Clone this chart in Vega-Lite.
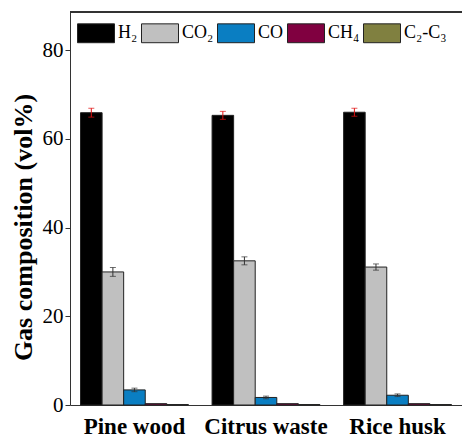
{
  "$schema": "https://vega.github.io/schema/vega-lite/v6.json",
  "autosize": "none",
  "width": 392,
  "height": 393,
  "padding": {"left": 70, "top": 12, "right": 0, "bottom": 32},
  "background": "white",
  "config": {
    "view": {"stroke": null},
    "font": "Liberation Serif"
  },
  "data": {
    "values": [
      {"sample": "Pine wood", "gas": "H₂", "value": 65.9, "lo": 64.9, "hi": 66.9},
      {"sample": "Pine wood", "gas": "CO₂", "value": 30.0, "lo": 29.0, "hi": 31.0},
      {"sample": "Pine wood", "gas": "CO", "value": 3.4, "lo": 3.0, "hi": 3.8},
      {"sample": "Pine wood", "gas": "CH₄", "value": 0.3, "lo": 0.3, "hi": 0.3},
      {"sample": "Pine wood", "gas": "C₂-C₃", "value": 0.1, "lo": 0.1, "hi": 0.1},
      {"sample": "Citrus waste", "gas": "H₂", "value": 65.3, "lo": 64.4, "hi": 66.2},
      {"sample": "Citrus waste", "gas": "CO₂", "value": 32.5, "lo": 31.6, "hi": 33.4},
      {"sample": "Citrus waste", "gas": "CO", "value": 1.7, "lo": 1.4, "hi": 2.0},
      {"sample": "Citrus waste", "gas": "CH₄", "value": 0.3, "lo": 0.3, "hi": 0.3},
      {"sample": "Citrus waste", "gas": "C₂-C₃", "value": 0.1, "lo": 0.1, "hi": 0.1},
      {"sample": "Rice husk", "gas": "H₂", "value": 66.0, "lo": 65.1, "hi": 66.9},
      {"sample": "Rice husk", "gas": "CO₂", "value": 31.1, "lo": 30.4, "hi": 31.8},
      {"sample": "Rice husk", "gas": "CO", "value": 2.2, "lo": 1.9, "hi": 2.5},
      {"sample": "Rice husk", "gas": "CH₄", "value": 0.3, "lo": 0.3, "hi": 0.3},
      {"sample": "Rice husk", "gas": "C₂-C₃", "value": 0.1, "lo": 0.1, "hi": 0.1}
    ]
  },
  "encoding": {
    "x": {
      "field": "sample",
      "type": "nominal",
      "sort": ["Pine wood", "Citrus waste", "Rice husk"],
      "scale": {"paddingInner": 0.18, "paddingOuter": 0.08},
      "axis": {
        "title": null,
        "labelAngle": 0,
        "labelFont": "Liberation Serif",
        "labelFontWeight": "bold",
        "labelFontSize": 23,
        "labelColor": "black",
        "labelPadding": 10,
        "ticks": false,
        "domainColor": "#333",
        "domainWidth": 1
      }
    },
    "xOffset": {
      "field": "gas",
      "type": "nominal",
      "sort": ["H₂", "CO₂", "CO", "CH₄", "C₂-C₃"],
      "scale": {"domain": ["H₂", "CO₂", "CO", "CH₄", "C₂-C₃"]}
    }
  },
  "layer": [
    {
      "mark": {"type": "bar", "stroke": "#222", "strokeWidth": 1},
      "encoding": {
        "y": {
          "field": "value",
          "type": "quantitative",
          "scale": {"domain": [0, 88.6], "nice": false},
          "axis": {
            "title": "Gas composition (vol%)",
            "titleFont": "Liberation Serif",
            "titleFontSize": 26,
            "titleFontWeight": "bold",
            "titleColor": "black",
            "titlePadding": 6,
            "titleY": 215,
            "values": [0, 20, 40, 60, 80],
            "labelFont": "Liberation Serif",
            "labelFontSize": 21,
            "labelColor": "black",
            "labelPadding": 2,
            "tickSize": 5,
            "tickColor": "#333",
            "domainColor": "#333",
            "grid": false
          }
        },
        "fill": {
          "field": "gas",
          "type": "nominal",
          "scale": {
            "domain": ["H₂", "CO₂", "CO", "CH₄", "C₂-C₃"],
            "range": ["#000000", "#c0c0c0", "#0a7ec2", "#800040", "#808040"]
          },
          "legend": {
            "title": null,
            "orient": "none",
            "legendX": 7,
            "legendY": 2,
            "direction": "horizontal",
            "symbolType": "M-1,-0.51L1,-0.51L1,0.51L-1,0.51Z",
            "symbolSize": 1369,
            "symbolStrokeColor": "#222",
            "symbolStrokeWidth": 1,
            "symbolOpacity": 1,
            "labelFont": "Liberation Serif",
            "labelFontSize": 18,
            "labelColor": "black",
            "labelOffset": 3,
            "columnPadding": 1
          }
        }
      }
    },
    {
      "transform": [{"filter": "datum.hi > datum.lo"}],
      "mark": {"type": "rule", "strokeWidth": 1},
      "encoding": {
        "y": {"field": "lo", "type": "quantitative"},
        "y2": {"field": "hi"},
        "color": {"condition": {"test": "datum.gas === 'H₂'", "value": "#e01010"}, "value": "#333"}
      }
    },
    {
      "transform": [{"filter": "datum.hi > datum.lo"}],
      "mark": {"type": "tick", "thickness": 1, "size": 6},
      "encoding": {
        "y": {"field": "lo", "type": "quantitative"},
        "color": {"condition": {"test": "datum.gas === 'H₂'", "value": "#e01010"}, "value": "#333"}
      }
    },
    {
      "transform": [{"filter": "datum.hi > datum.lo"}],
      "mark": {"type": "tick", "thickness": 1, "size": 6},
      "encoding": {
        "y": {"field": "hi", "type": "quantitative"},
        "color": {"condition": {"test": "datum.gas === 'H₂'", "value": "#e01010"}, "value": "#333"}
      }
    },
    {
      "mark": {"type": "rule", "color": "#333", "strokeWidth": 1},
      "encoding": {
        "y": {"datum": 88.6, "type": "quantitative"},
        "x": null,
        "xOffset": null
      }
    }
  ]
}
